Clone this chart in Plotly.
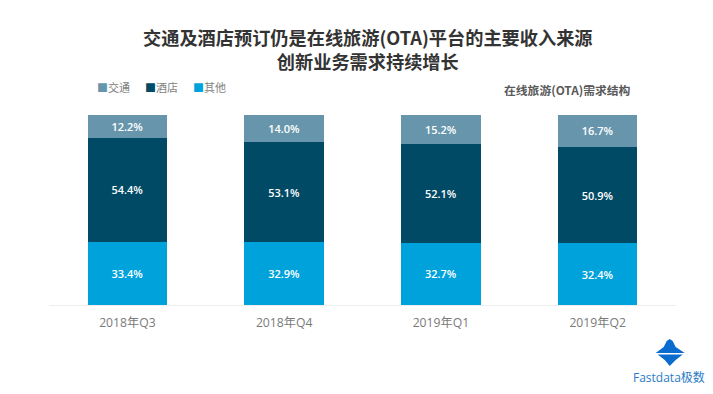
import plotly.graph_objects as go

quarters = ["2018年Q3", "2018年Q4", "2019年Q1", "2019年Q2"]
transport = [12.2, 14.0, 15.2, 16.7]
hotel = [54.4, 53.1, 52.1, 50.9]
other = [33.4, 32.9, 32.7, 32.4]

FONT = "Noto Sans CJK SC, Open Sans, sans-serif"
W, H = 713, 394
L, R, T, B = 49.1, 676.3, 115, 305


def px(x):
    return (x - L) / (R - L)


def py(y):
    return (B - y) / (B - T)


fig = go.Figure()
series = [("其他", other, "#00a2dc"), ("酒店", hotel, "#004a66"), ("交通", transport, "#6796ac")]
for name, vals, col in series:
    fig.add_trace(go.Bar(
        name=name, x=quarters, y=vals, marker=dict(color=col, line_width=0),
        text=[f"{v:.1f}%" for v in vals], textposition="inside", insidetextanchor="middle",
        textangle=0, constraintext="none",
        textfont=dict(color="white", size=11, family="Open Sans, sans-serif", weight=600),
    ))


def note(text, x, y, anchor, size, color, family=FONT):
    return dict(text=text, x=px(x), y=py(y), xref="paper", yref="paper", xanchor=anchor, yanchor="middle",
                showarrow=False, font=dict(size=size, color=color, family=family))


annotations = [
    note("<b>交通及酒店预订仍是在线旅游(OTA)平台的主要收入来源<br>创新业务需求持续增长</b>", 368, 49.5, "center", 18.2, "#333333"),
    note("<b>在线旅游(OTA)需求结构</b>", 633, 89, "right", 11.8, "#595959"),
    note("Fastdata极数", 669, 377, "center", 12, "#2a7cc7", "Open Sans, Noto Sans CJK SC, sans-serif"),
]
for (name, vals, col), lx in zip(reversed(series), [95, 143, 191]):
    annotations.append(note(f'<span style="color:{col}">■</span>{name}', lx, 87, "left", 11, "#7f7f7f"))

fig.update_layout(
    width=W, height=H, autosize=False, barmode="stack", bargap=0.493,
    paper_bgcolor="white", plot_bgcolor="white",
    margin=dict(l=L, r=W - R, t=T, b=H - B, autoexpand=False),
    font=dict(family=FONT),
    showlegend=False,
    xaxis=dict(showline=True, linecolor="#eeeeee", linewidth=1, ticks="", showgrid=False, ticklabelstandoff=6,
               tickfont=dict(size=12.2, color="#7a7a7a", family="Open Sans, Noto Sans CJK SC, sans-serif")),
    yaxis=dict(visible=False, range=[0, 100], showgrid=False, zeroline=False),
    annotations=annotations,
    shapes=[
        dict(type="path", xref="paper", yref="paper", fillcolor="#0a6ccf", line_width=0,
             path=" ".join([f"{c} {px(x):.4f},{py(y):.4f}" for c, x, y in [
                 ("M", 656, 353), ("L", 664, 347), ("L", 667, 341), ("L", 670, 339), ("L", 673, 341),
                 ("L", 676, 347), ("L", 685, 353)]]) + " Z"),
        dict(type="path", xref="paper", yref="paper", fillcolor="#0a6ccf", line_width=0,
             path=" ".join([f"{c} {px(x):.4f},{py(y):.4f}" for c, x, y in [
                 ("M", 658, 354.5), ("L", 683, 354.5), ("L", 676, 360), ("L", 670, 366), ("L", 665, 360)]]) + " Z"),
    ],
)
fig.write_html("out.html", post_script="document.body.style.margin='0';", config={"displayModeBar": False})
